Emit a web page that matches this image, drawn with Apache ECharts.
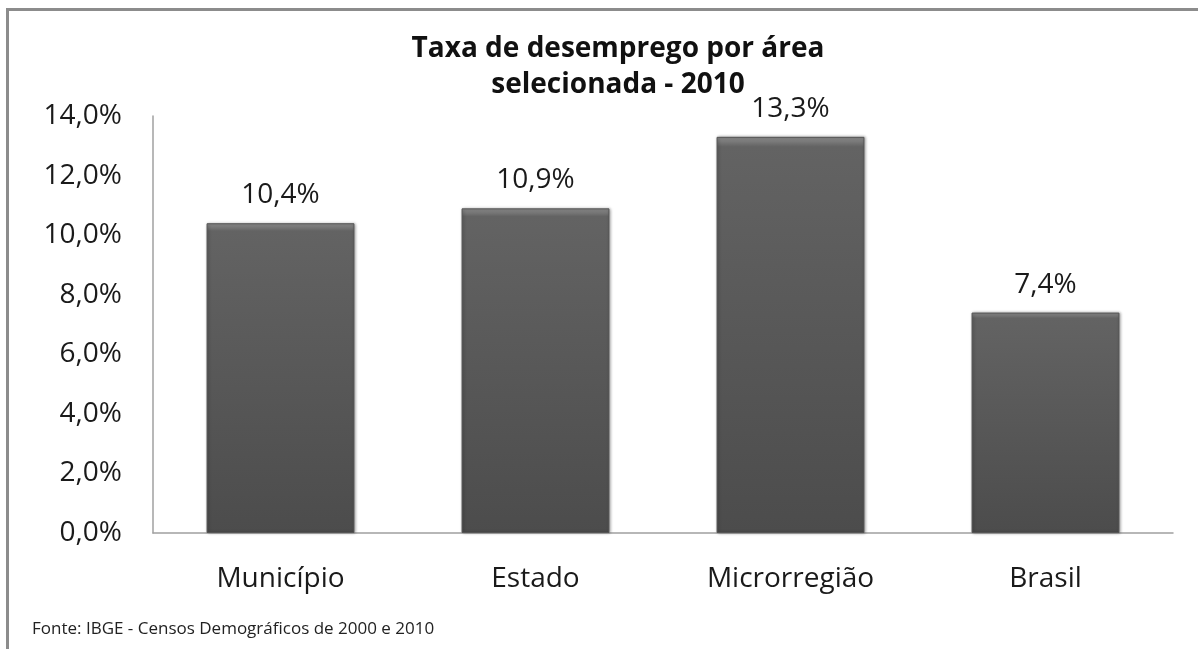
<!DOCTYPE html>
<html lang="pt">
  <head>
    <meta charset="UTF-8" />
    <title>Taxa de desemprego por área selecionada - 2010</title>
    <script src="https://cdn.jsdelivr.net/npm/echarts@6/dist/echarts.min.js"></script>
    <style>
      html, body { margin: 0; padding: 0; background: #fff; }
      #frame {
        position: absolute; left: 6px; top: 8px; right: 0; bottom: 0;
        border-left: 3px solid #8c8c8c; border-top: 3px solid #8c8c8c;
      }
      #chart { position: absolute; left: 0; top: 0; width: 1198px; height: 649px; }
    </style>
  </head>
  <body>
    <div id="frame"></div>
    <div id="chart"></div>
    <script>
      // dados
      const categories = ["Município", "Estado", "Microrregião", "Brasil"];
      const rates = [10.4, 10.9, 13.3, 7.4];
      const titleLines = ["Taxa de desemprego por área", "selecionada - 2010"];
      const sourceNote = "Fonte: IBGE - Censos Demográficos de 2000 e 2010";

      const FONT = "'Open Sans', Lato, sans-serif";
      const pct = (v) => v.toFixed(1).replace(".", ",") + "%";

      const barColor = {
        type: "linear", x: 0, y: 0, x2: 0, y2: 1,
        colorStops: [
          { offset: 0, color: "#8e8e8e" },
          { offset: 0.025, color: "#636363" },
          { offset: 1, color: "#4c4c4c" },
        ],
      };

      const chart = echarts.init(document.getElementById("chart"));
      chart.setOption({
        animation: false,
        title: {
          text: titleLines.join("\n"),
          left: 613,
          textAlign: "center",
          top: 26,
          textStyle: { fontFamily: FONT, fontSize: 28, fontWeight: "bold", color: "#111", lineHeight: 36 },
        },
        graphic: [
          {
            type: "text", left: 32, top: 621,
            style: { text: sourceNote, fontFamily: FONT, fontSize: 17, fill: "#222" },
          },
        ],
        grid: { left: 153, right: 25, top: 116, bottom: 116 },
        xAxis: {
          type: "category",
          data: categories,
          axisLine: { lineStyle: { color: "#a0a0a0", width: 1.5 } },
          axisTick: { show: false },
          axisLabel: { margin: 32, fontFamily: FONT, fontSize: 28, color: "#1a1a1a" },
        },
        yAxis: {
          type: "value",
          min: 0, max: 14, interval: 2,
          splitLine: { show: false },
          axisLine: { show: true, lineStyle: { color: "#a0a0a0", width: 1.5 } },
          axisTick: { show: false },
          axisLabel: { margin: 31, fontFamily: FONT, fontSize: 28, color: "#1a1a1a", formatter: pct },
        },
        series: [
          {
            type: "bar",
            data: rates,
            barWidth: "58%",
            itemStyle: {
              color: barColor,
              borderColor: "#555",
              borderWidth: 1,
              shadowColor: "rgba(0,0,0,0.35)",
              shadowBlur: 3,
              shadowOffsetX: 1,
            },
            label: {
              show: true, position: "top", distance: 14,
              fontFamily: FONT, fontSize: 28, color: "#1a1a1a",
              formatter: (p) => pct(p.value),
            },
          },
        ],
      });
    </script>
  </body>
</html>
